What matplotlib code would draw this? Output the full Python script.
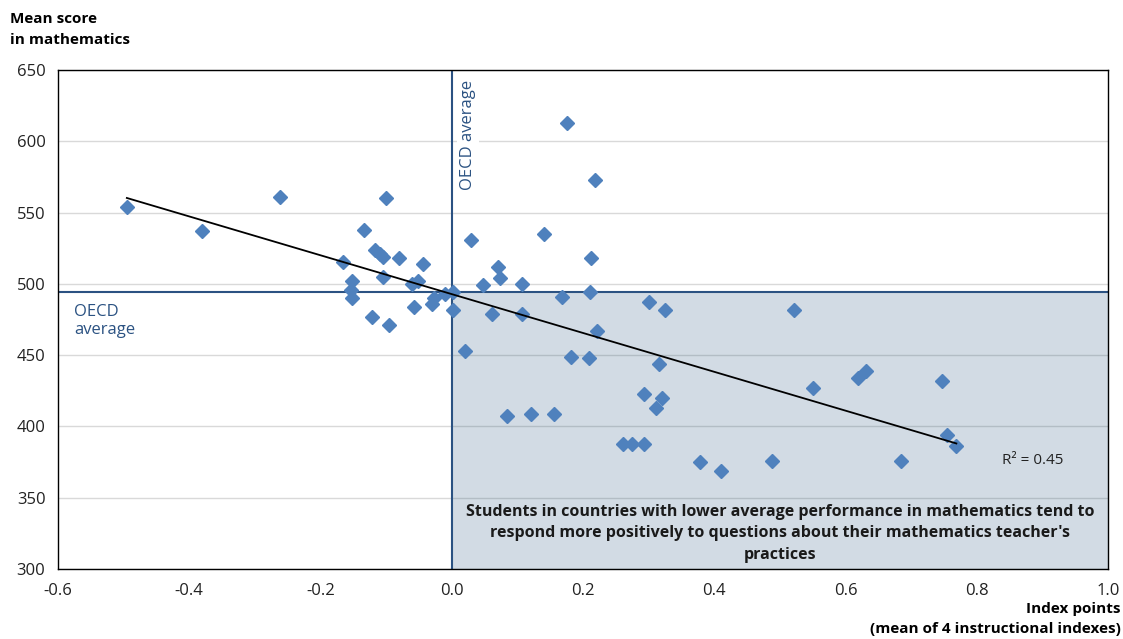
import matplotlib
matplotlib.use("Agg")
import matplotlib.pyplot as plt
import numpy as np

plt.rcParams['font.family'] = ['Open Sans', 'DejaVu Sans']

# index points (mean of 4 instructional indexes) and mean maths score per country
index_pts = [-0.495, -0.381, -0.262, -0.100, -0.133, -0.166, -0.117, -0.110, -0.104, -0.081,
             -0.043, -0.105, -0.152, -0.153, -0.152, -0.122, -0.095, -0.058, -0.060, -0.052,
             -0.030, -0.027, -0.010, 0.002, 0.002, 0.020, 0.030, 0.047, 0.061, 0.070,
             0.074, 0.084, 0.107, 0.107, 0.121, 0.140, 0.156, 0.168, 0.175, 0.182,
             0.209, 0.210, 0.213, 0.218, 0.221, 0.261, 0.275, 0.293, 0.293, 0.300,
             0.311, 0.316, 0.321, 0.325, 0.379, 0.411, 0.488, 0.521, 0.550, 0.619,
             0.632, 0.684, 0.747, 0.754, 0.769]
math_score = [554, 537, 561, 560, 538, 515, 524, 521, 519, 518,
              514, 505, 502, 496, 490, 477, 471, 484, 500, 502,
              486, 490, 493, 494, 482, 453, 531, 499, 479, 512,
              504, 407, 500, 479, 409, 535, 409, 491, 613, 449,
              448, 494, 518, 573, 467, 388, 388, 388, 423, 487,
              413, 444, 420, 482, 375, 369, 376, 482, 427, 434,
              439, 376, 432, 394, 386]

oecd_index = 0.0
oecd_score = 494
r2_label = "R² = 0.45"
note = ("Students in countries with lower average performance in mathematics tend to\n"
        "respond more positively to questions about their mathematics teacher's\n"
        "practices")

blue = '#4F81BD'
navy = '#2B5282'

fig = plt.figure(figsize=(11.23, 6.39), dpi=100)
ax = fig.add_axes([0.0516, 0.1095, 0.935, 0.781])

ax.set_xlim(-0.6, 1.0)
ax.set_ylim(300, 650)
ax.set_xticks(np.arange(-0.6, 1.01, 0.2))
ax.set_xticklabels(['%.1f' % t for t in np.arange(-0.6, 1.01, 0.2)])
ax.set_yticks(range(300, 651, 50))
ax.tick_params(length=0, labelsize=12, colors='#222222')
ax.tick_params(axis='x', pad=10)
ax.tick_params(axis='y', pad=9)
ax.yaxis.grid(True, color='#D9D9D9', lw=1)
ax.set_axisbelow(True)
for s in ax.spines.values():
    s.set_color('black')
    s.set_linewidth(1)

# quadrant below OECD mean score / above OECD mean index
ax.fill_between([oecd_index, 1.0], 300, oecd_score, color='#1F4E79', alpha=0.2,
                lw=0, zorder=0.8)
ax.axvline(oecd_index, color=navy, lw=1.5, zorder=1.5)
ax.axhline(oecd_score, color=navy, lw=1.5, zorder=1.5)

ax.plot(index_pts, math_score, 'D', color=blue, ms=7, mec=blue, zorder=3)

# linear trend
x = np.array(index_pts)
y = np.array(math_score)
b, a = np.polyfit(x, y, 1)
xs = np.array([x.min(), x.max()])
ax.plot(xs, a + b * xs, color='black', lw=1.3, zorder=4)

ax.text(0.839, 376, r2_label, fontsize=11, color='#222222', va='center')

ax.text(oecd_index + 0.013, 643, 'OECD average', rotation=90, ha='left', va='top',
        fontsize=12, color=navy,
        bbox=dict(facecolor='white', edgecolor='none', pad=2))
ax.text(-0.575, 474, 'OECD\naverage', ha='left', va='center', fontsize=12,
        color=navy, linespacing=1.15)

ax.text(0.5, 325, note, ha='center', va='center', fontsize=11.5,
        fontweight='bold', color='#1a1a1a', linespacing=1.45)

fig.text(0.009, 0.982, 'Mean score\nin mathematics', ha='left', va='top',
         fontsize=11, fontweight='bold', linespacing=1.7)
fig.text(0.998, 0.058, 'Index points\n(mean of 4 instructional indexes)', ha='right',
         va='top', fontsize=11, fontweight='bold', linespacing=1.55)

fig.savefig('out.png', dpi=100)
